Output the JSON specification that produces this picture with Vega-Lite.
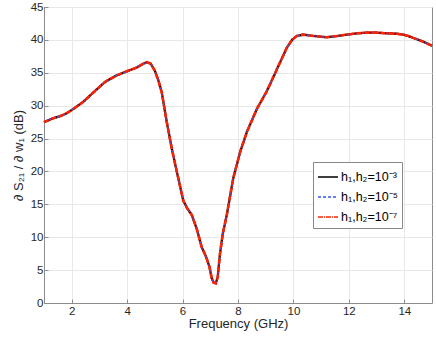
{
  "$schema": "https://vega.github.io/schema/vega-lite/v6.json",
  "width": 388,
  "height": 296,
  "autosize": "none",
  "padding": {"left": 44, "top": 7, "right": 4, "bottom": 37},
  "background": "white",
  "config": {
    "font": "Liberation Sans",
    "view": {"stroke": "#8c8c8c", "strokeWidth": 1},
    "axis": {
      "domainColor": "#8c8c8c",
      "tickColor": "#8c8c8c",
      "gridColor": "#e8e8e8",
      "labelFont": "Liberation Sans",
      "labelFontSize": 11.5,
      "labelColor": "#262626",
      "titleFont": "Liberation Sans",
      "titleFontSize": 13,
      "titleFontWeight": "normal",
      "titleColor": "#262626",
      "tickSize": -4
    }
  },
  "data": {
    "values": [
      {"f": 1.0, "v": 27.5}, {"f": 1.34, "v": 28.1}, {"f": 1.58, "v": 28.4}, {"f": 1.8, "v": 28.8},
      {"f": 2.06, "v": 29.5}, {"f": 2.42, "v": 30.6}, {"f": 2.78, "v": 32.0}, {"f": 3.2, "v": 33.6},
      {"f": 3.62, "v": 34.6}, {"f": 4.04, "v": 35.3}, {"f": 4.35, "v": 35.8}, {"f": 4.55, "v": 36.3},
      {"f": 4.7, "v": 36.6}, {"f": 4.85, "v": 36.4}, {"f": 5.0, "v": 35.3}, {"f": 5.13, "v": 33.8},
      {"f": 5.25, "v": 32.0}, {"f": 5.43, "v": 27.5}, {"f": 5.61, "v": 23.5}, {"f": 5.79, "v": 20.0},
      {"f": 6.03, "v": 15.5}, {"f": 6.18, "v": 14.3}, {"f": 6.33, "v": 13.4}, {"f": 6.51, "v": 11.3},
      {"f": 6.69, "v": 8.5}, {"f": 6.85, "v": 7.0}, {"f": 6.97, "v": 5.5}, {"f": 7.05, "v": 3.8},
      {"f": 7.12, "v": 3.1}, {"f": 7.2, "v": 3.0}, {"f": 7.27, "v": 4.0}, {"f": 7.35, "v": 7.5},
      {"f": 7.45, "v": 10.5}, {"f": 7.6, "v": 13.5}, {"f": 7.83, "v": 19.0}, {"f": 8.08, "v": 23.0},
      {"f": 8.32, "v": 26.0}, {"f": 8.68, "v": 29.5}, {"f": 9.04, "v": 32.2}, {"f": 9.4, "v": 35.5},
      {"f": 9.76, "v": 38.8}, {"f": 9.95, "v": 40.0}, {"f": 10.12, "v": 40.6}, {"f": 10.35, "v": 40.8},
      {"f": 10.72, "v": 40.6}, {"f": 11.2, "v": 40.4}, {"f": 11.6, "v": 40.6}, {"f": 11.93, "v": 40.8},
      {"f": 12.3, "v": 41.0}, {"f": 12.65, "v": 41.1}, {"f": 13.0, "v": 41.1}, {"f": 13.37, "v": 41.0},
      {"f": 13.7, "v": 40.95}, {"f": 13.97, "v": 40.8}, {"f": 14.2, "v": 40.5}, {"f": 14.45, "v": 40.1},
      {"f": 14.7, "v": 39.7}, {"f": 15.0, "v": 39.1}
    ]
  },
  "encoding": {
    "x": {
      "field": "f", "type": "quantitative",
      "scale": {"domain": [1, 15], "nice": false, "zero": false},
      "axis": {"values": [2, 4, 6, 8, 10, 12, 14], "title": "Frequency (GHz)", "titlePadding": 1, "labelPadding": 6}
    },
    "y": {
      "field": "v", "type": "quantitative",
      "scale": {"domain": [0, 45], "nice": false},
      "axis": {"values": [0, 5, 10, 15, 20, 25, 30, 35, 40, 45], "title": "∂ S₂₁ / ∂ w₁ (dB)", "titlePadding": 5, "labelPadding": 5}
    }
  },
  "layer": [
    {
      "mark": {"type": "line", "strokeWidth": 2.2},
      "encoding": {
        "color": {"datum": "h₁,h₂=10⁻³", "type": "nominal",
          "scale": {"domain": ["h₁,h₂=10⁻³", "h₁,h₂=10⁻⁵", "h₁,h₂=10⁻⁷"], "range": ["#000000", "#3355ff", "#ff2200"]},
          "legend": {
            "title": null, "orient": "none", "legendX": 269, "legendY": 155,
            "symbolType": "stroke", "symbolSize": 400, "symbolStrokeWidth": 1.5,
            "labelFont": "Liberation Sans", "labelFontSize": 12.5, "labelColor": "#000",
            "strokeColor": "#888", "fillColor": "white", "padding": 4, "rowPadding": 2,
            "labelOffset": 2
          }},
        "strokeDash": {"datum": "h₁,h₂=10⁻³", "type": "nominal",
          "scale": {"domain": ["h₁,h₂=10⁻³", "h₁,h₂=10⁻⁵", "h₁,h₂=10⁻⁷"], "range": [[1, 0], [3, 2], [5, 1, 1, 1]]},
          "legend": null}
      }
    },
    {
      "mark": {"type": "line", "strokeWidth": 1.5},
      "encoding": {
        "color": {"datum": "h₁,h₂=10⁻⁵", "type": "nominal"},
        "strokeDash": {"datum": "h₁,h₂=10⁻⁵", "type": "nominal"}
      }
    },
    {
      "mark": {"type": "line", "strokeWidth": 2.6},
      "encoding": {
        "color": {"datum": "h₁,h₂=10⁻⁷", "type": "nominal"},
        "strokeDash": {"datum": "h₁,h₂=10⁻⁷", "type": "nominal"}
      }
    }
  ]
}
